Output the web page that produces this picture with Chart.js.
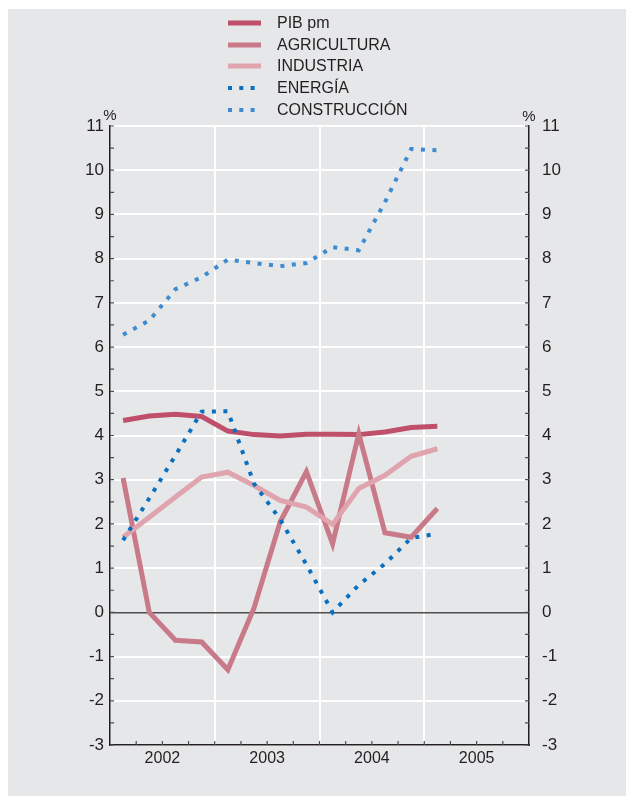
<!DOCTYPE html>
<html>
<head>
<meta charset="utf-8">
<script src="https://cdn.jsdelivr.net/npm/chart.js@4"></script>
<style>
  body { margin: 0; background: #fff; font-family: "Liberation Sans", Arial, sans-serif; }
  #panel { position: absolute; left: 8px; top: 9px; right: 0; bottom: 0; background: #e6e7e9; }
  #chart { position: absolute; left: 0; top: 0; }
  #legend { position: absolute; left: 228px; top: 12px; }
  .item { height: 21.7px; display: flex; align-items: center; font-size: 16px; color: #231f20; }
  .item svg { width: 33px; height: 6px; margin-right: 16px; }
</style>
</head>
<body>
<div id="panel"></div>
<canvas id="chart" width="626" height="796"></canvas>
<div id="legend"></div>
<script>
// trimestres I-2002 .. I-2005
const quarters = ['I 2002', 'II 2002', 'III 2002', 'IV 2002', 'I 2003', 'II 2003', 'III 2003', 'IV 2003',
                  'I 2004', 'II 2004', 'III 2004', 'IV 2004', 'I 2005'];
const years = ['2002', '2003', '2004', '2005'];

const pib          = [4.34, 4.44, 4.48, 4.43, 4.10, 4.02, 3.99, 4.03, 4.03, 4.02, 4.08, 4.18, 4.21];
const agricultura  = [3.04, 0.00, -0.63, -0.67, -1.30, 0.10, 2.05, 3.18, 1.55, 4.04, 1.80, 1.70, 2.35];
const industria    = [1.70, 2.15, 2.61, 3.06, 3.17, 2.87, 2.53, 2.38, 1.99, 2.80, 3.10, 3.53, 3.70];
const energia      = [1.63, 2.58, 3.55, 4.54, 4.55, 2.91, 2.10, 1.08, 0.00, 0.62, 1.10, 1.68, 1.78];
const construccion = [6.28, 6.60, 7.31, 7.58, 7.98, 7.90, 7.83, 7.90, 8.26, 8.19, 9.28, 10.48, 10.45];

const names  = ['PIB pm', 'AGRICULTURA', 'INDUSTRIA', 'ENERGÍA', 'CONSTRUCCIÓN'];
const colors = ['#bf4f6b', '#c97a88', '#dfa4ad', '#0a6fbf', '#3d8bd1'];
const dotted = [false, false, false, true, true];
const series = [pib, agricultura, industria, energia, construccion];

const ink = '#231f20';

const toPoints = arr => arr.map((v, i) => ({ x: i + 0.5, y: v }));

const datasets = series.map((s, i) => ({
  label: names[i],
  data: toPoints(s),
  borderColor: colors[i],
  backgroundColor: colors[i],
  borderWidth: dotted[i] ? 4 : 5,
  borderDash: dotted[i] ? [4, 7.5] : [],
  borderCapStyle: 'butt',
  borderJoinStyle: 'miter',
  pointRadius: 0,
  tension: 0,
  order: names.length - i
}));

// legend
const legend = document.getElementById('legend');
names.forEach((n, i) => {
  const dash = dotted[i] ? 'stroke-dasharray="4 7.3"' : '';
  const w = dotted[i] ? 4 : 5;
  legend.insertAdjacentHTML('beforeend', `
    <div class="item">
      <svg viewBox="0 0 33 6"><line x1="0" y1="3" x2="33" y2="3" stroke="${colors[i]}" stroke-width="${w}" ${dash}/></svg>
      <span>${n}</span>
    </div>`);
});

// small inward tick marks and % units
const tickMarks = {
  id: 'tickMarks',
  afterDraw(chart) {
    const { ctx, chartArea: a, scales: { x, y } } = chart;
    ctx.save();
    ctx.strokeStyle = '#4d4d4d';
    ctx.lineWidth = 1.2;
    ctx.beginPath();
    for (let v = -3; v <= 11; v += 0.5) {
      const py = y.getPixelForValue(v);
      ctx.moveTo(a.left, py); ctx.lineTo(a.left + 4, py);
      ctx.moveTo(a.right, py); ctx.lineTo(a.right - 4, py);
    }
    for (let q = 1; q < 16; q++) {
      const px = x.getPixelForValue(q);
      ctx.moveTo(px, a.bottom); ctx.lineTo(px, a.bottom - 4);
    }
    ctx.stroke();
    ctx.fillStyle = ink;
    ctx.font = '15px "Liberation Sans"';
    ctx.textAlign = 'center';
    ctx.fillText('%', a.left, 120);
    ctx.fillText('%', a.right, 121);
    ctx.restore();
  }
};

const yTicks = (pad) => ({ stepSize: 1, padding: pad, color: ink, font: { size: 17, family: 'Liberation Sans' } });

new Chart(document.getElementById('chart'), {
  type: 'line',
  data: { datasets },
  options: {
    responsive: false,
    animation: false,
    layout: { padding: { top: 126, left: 0, right: 0, bottom: 0 } },
    plugins: { legend: { display: false }, tooltip: { enabled: false } },
    scales: {
      x: {
        type: 'linear', min: 0, max: 16,
        afterFit: s => { s.height = 51; },
        border: { color: ink, width: 1.5 },
        grid: {
          color: c => (c.tick.value % 4 === 0 && c.tick.value > 0 && c.tick.value < 16) ? '#ffffff' : 'rgba(0,0,0,0)',
          lineWidth: 2,
          drawTicks: false
        },
        ticks: {
          stepSize: 1, autoSkip: false, maxRotation: 0, padding: 4, color: ink,
          font: { size: 16, family: 'Liberation Sans' },
          callback: v => v % 4 === 2 ? years[(v - 2) / 4] : ''
        }
      },
      y: {
        position: 'left', min: -3, max: 11,
        afterFit: s => { s.width = 110; },
        border: { color: ink, width: 1.5 },
        grid: {
          color: c => c.tick.value === 0 ? '#4d4d4d' : '#ffffff',
          lineWidth: c => c.tick.value === 0 ? 1.5 : 2,
          drawTicks: false
        },
        ticks: yTicks(6)
      },
      y2: {
        position: 'right', min: -3, max: 11,
        afterFit: s => { s.width = 97; },
        border: { color: ink, width: 1.5 },
        grid: { drawOnChartArea: false, drawTicks: false },
        ticks: yTicks(13)
      }
    }
  },
  plugins: [tickMarks]
});
</script>
</body>
</html>
